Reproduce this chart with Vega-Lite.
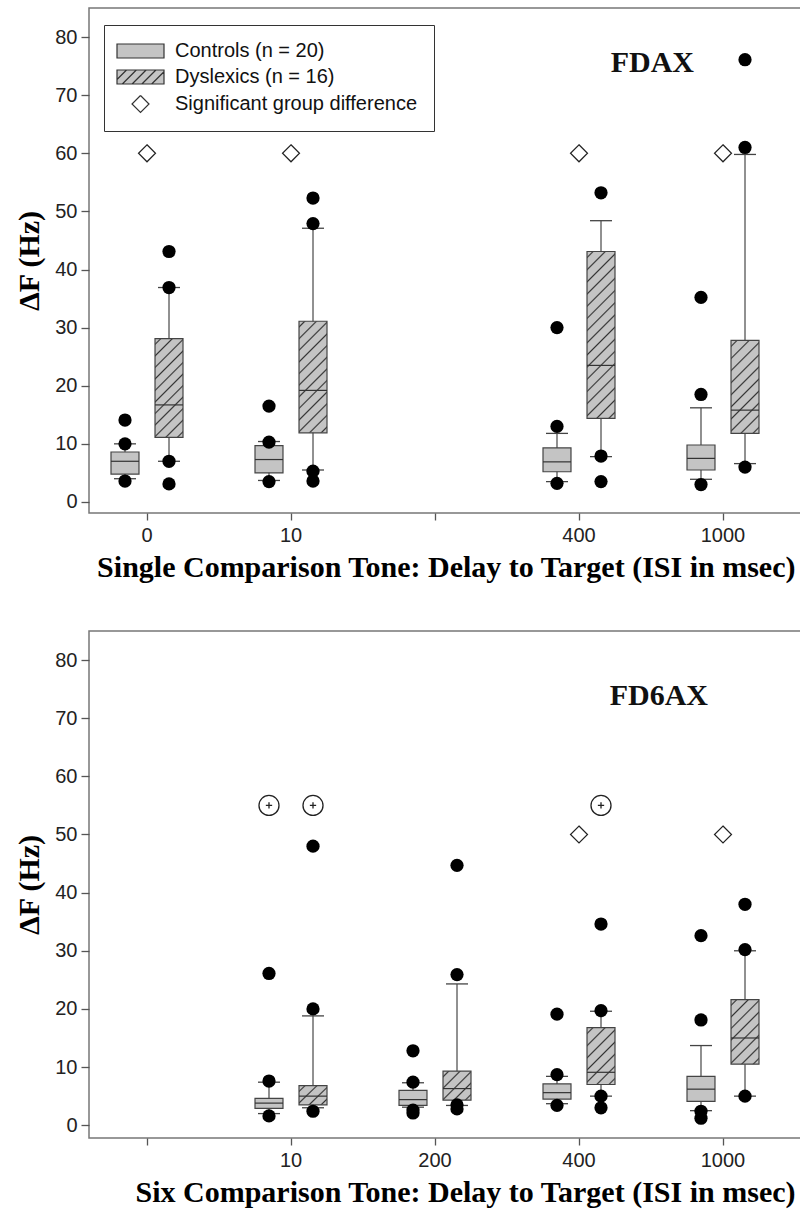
{
  "$schema": "https://vega.github.io/schema/vega-lite/v6.json",
  "autosize": {"type": "pad"},
  "padding": {"left": 14, "top": 7, "right": -2, "bottom": 5},
  "background": "white",
  "spacing": 118,
  "bounds": "flush",
  "datasets": {
    "boxes": [
      {"panel": "FDAX", "slot": "0", "group": "Controls", "lo": 4.0, "q1": 4.8, "med": 7.0, "q3": 8.6, "hi": 10.0},
      {"panel": "FDAX", "slot": "0", "group": "Dyslexics", "lo": 7.0, "q1": 11.1, "med": 16.7, "q3": 28.1, "hi": 36.9},
      {"panel": "FDAX", "slot": "10", "group": "Controls", "lo": 3.7, "q1": 5.0, "med": 7.3, "q3": 9.7, "hi": 10.4},
      {"panel": "FDAX", "slot": "10", "group": "Dyslexics", "lo": 5.5, "q1": 11.9, "med": 19.2, "q3": 31.1, "hi": 47.1},
      {"panel": "FDAX", "slot": "400", "group": "Controls", "lo": 3.5, "q1": 5.2, "med": 6.9, "q3": 9.3, "hi": 11.8},
      {"panel": "FDAX", "slot": "400", "group": "Dyslexics", "lo": 7.8, "q1": 14.4, "med": 23.5, "q3": 43.1, "hi": 48.4},
      {"panel": "FDAX", "slot": "1000", "group": "Controls", "lo": 3.9, "q1": 5.5, "med": 7.5, "q3": 9.8, "hi": 16.2},
      {"panel": "FDAX", "slot": "1000", "group": "Dyslexics", "lo": 6.6, "q1": 11.8, "med": 15.8, "q3": 27.8, "hi": 59.8},
      {"panel": "FD6AX", "slot": "10", "group": "Controls", "lo": 2.0, "q1": 2.9, "med": 3.8, "q3": 4.6, "hi": 7.4},
      {"panel": "FD6AX", "slot": "10", "group": "Dyslexics", "lo": 3.0, "q1": 3.5, "med": 5.0, "q3": 6.8, "hi": 18.8},
      {"panel": "FD6AX", "slot": "200", "group": "Controls", "lo": 3.1, "q1": 3.4, "med": 4.4, "q3": 6.0, "hi": 7.3},
      {"panel": "FD6AX", "slot": "200", "group": "Dyslexics", "lo": 3.4, "q1": 4.3, "med": 6.3, "q3": 9.3, "hi": 24.3},
      {"panel": "FD6AX", "slot": "400", "group": "Controls", "lo": 3.7, "q1": 4.5, "med": 5.6, "q3": 7.1, "hi": 8.4},
      {"panel": "FD6AX", "slot": "400", "group": "Dyslexics", "lo": 5.0, "q1": 7.0, "med": 9.1, "q3": 16.8, "hi": 19.6},
      {"panel": "FD6AX", "slot": "1000", "group": "Controls", "lo": 2.5, "q1": 4.1, "med": 6.2, "q3": 8.4, "hi": 13.7},
      {"panel": "FD6AX", "slot": "1000", "group": "Dyslexics", "lo": 5.0, "q1": 10.5, "med": 15.0, "q3": 21.6, "hi": 30.0}
    ],
    "outliers": [
      {"panel": "FDAX", "slot": "0", "group": "Controls", "value": 14.1},
      {"panel": "FDAX", "slot": "0", "group": "Controls", "value": 10.0},
      {"panel": "FDAX", "slot": "0", "group": "Controls", "value": 3.6},
      {"panel": "FDAX", "slot": "0", "group": "Dyslexics", "value": 43.1},
      {"panel": "FDAX", "slot": "0", "group": "Dyslexics", "value": 36.9},
      {"panel": "FDAX", "slot": "0", "group": "Dyslexics", "value": 7.0},
      {"panel": "FDAX", "slot": "0", "group": "Dyslexics", "value": 3.1},
      {"panel": "FDAX", "slot": "10", "group": "Controls", "value": 16.5},
      {"panel": "FDAX", "slot": "10", "group": "Controls", "value": 10.3},
      {"panel": "FDAX", "slot": "10", "group": "Controls", "value": 3.5},
      {"panel": "FDAX", "slot": "10", "group": "Dyslexics", "value": 52.3},
      {"panel": "FDAX", "slot": "10", "group": "Dyslexics", "value": 47.9},
      {"panel": "FDAX", "slot": "10", "group": "Dyslexics", "value": 5.3},
      {"panel": "FDAX", "slot": "10", "group": "Dyslexics", "value": 3.6},
      {"panel": "FDAX", "slot": "400", "group": "Controls", "value": 30.0},
      {"panel": "FDAX", "slot": "400", "group": "Controls", "value": 13.0},
      {"panel": "FDAX", "slot": "400", "group": "Controls", "value": 3.2},
      {"panel": "FDAX", "slot": "400", "group": "Dyslexics", "value": 53.2},
      {"panel": "FDAX", "slot": "400", "group": "Dyslexics", "value": 7.9},
      {"panel": "FDAX", "slot": "400", "group": "Dyslexics", "value": 3.5},
      {"panel": "FDAX", "slot": "1000", "group": "Controls", "value": 35.2},
      {"panel": "FDAX", "slot": "1000", "group": "Controls", "value": 18.5},
      {"panel": "FDAX", "slot": "1000", "group": "Controls", "value": 3.0},
      {"panel": "FDAX", "slot": "1000", "group": "Dyslexics", "value": 76.1},
      {"panel": "FDAX", "slot": "1000", "group": "Dyslexics", "value": 61.0},
      {"panel": "FDAX", "slot": "1000", "group": "Dyslexics", "value": 6.0},
      {"panel": "FD6AX", "slot": "10", "group": "Controls", "value": 26.1},
      {"panel": "FD6AX", "slot": "10", "group": "Controls", "value": 7.6},
      {"panel": "FD6AX", "slot": "10", "group": "Controls", "value": 1.6},
      {"panel": "FD6AX", "slot": "10", "group": "Dyslexics", "value": 48.0},
      {"panel": "FD6AX", "slot": "10", "group": "Dyslexics", "value": 20.0},
      {"panel": "FD6AX", "slot": "10", "group": "Dyslexics", "value": 2.4},
      {"panel": "FD6AX", "slot": "200", "group": "Controls", "value": 12.8},
      {"panel": "FD6AX", "slot": "200", "group": "Controls", "value": 7.4},
      {"panel": "FD6AX", "slot": "200", "group": "Controls", "value": 2.6},
      {"panel": "FD6AX", "slot": "200", "group": "Controls", "value": 2.1},
      {"panel": "FD6AX", "slot": "200", "group": "Dyslexics", "value": 44.7},
      {"panel": "FD6AX", "slot": "200", "group": "Dyslexics", "value": 25.9},
      {"panel": "FD6AX", "slot": "200", "group": "Dyslexics", "value": 3.5},
      {"panel": "FD6AX", "slot": "200", "group": "Dyslexics", "value": 2.8},
      {"panel": "FD6AX", "slot": "400", "group": "Controls", "value": 19.1},
      {"panel": "FD6AX", "slot": "400", "group": "Controls", "value": 8.7},
      {"panel": "FD6AX", "slot": "400", "group": "Controls", "value": 3.4},
      {"panel": "FD6AX", "slot": "400", "group": "Dyslexics", "value": 34.6},
      {"panel": "FD6AX", "slot": "400", "group": "Dyslexics", "value": 19.7},
      {"panel": "FD6AX", "slot": "400", "group": "Dyslexics", "value": 5.0},
      {"panel": "FD6AX", "slot": "400", "group": "Dyslexics", "value": 3.0},
      {"panel": "FD6AX", "slot": "1000", "group": "Controls", "value": 32.6},
      {"panel": "FD6AX", "slot": "1000", "group": "Controls", "value": 18.1},
      {"panel": "FD6AX", "slot": "1000", "group": "Controls", "value": 2.4},
      {"panel": "FD6AX", "slot": "1000", "group": "Controls", "value": 1.2},
      {"panel": "FD6AX", "slot": "1000", "group": "Dyslexics", "value": 38.0},
      {"panel": "FD6AX", "slot": "1000", "group": "Dyslexics", "value": 30.2},
      {"panel": "FD6AX", "slot": "1000", "group": "Dyslexics", "value": 5.0}
    ],
    "marks": [
      {"panel": "FDAX", "slot": "0", "value": 60, "kind": "Significant group difference"},
      {"panel": "FDAX", "slot": "10", "value": 60, "kind": "Significant group difference"},
      {"panel": "FDAX", "slot": "400", "value": 60, "kind": "Significant group difference"},
      {"panel": "FDAX", "slot": "1000", "value": 60, "kind": "Significant group difference"},
      {"panel": "FD6AX", "slot": "400", "value": 50, "kind": "Significant group difference"},
      {"panel": "FD6AX", "slot": "1000", "value": 50, "kind": "Significant group difference"}
    ],
    "plus": [
      {"panel": "FD6AX", "slot": "10", "group": "Controls", "value": 55},
      {"panel": "FD6AX", "slot": "10", "group": "Dyslexics", "value": 55},
      {"panel": "FD6AX", "slot": "400", "group": "Dyslexics", "value": 55}
    ]
  },
  "vconcat": [
    {
      "width": 712,
      "height": 505,
      "layer": [
        {
          "data": {"name": "boxes"},
          "transform": [{"filter": "datum.panel == 'FDAX'"}],
          "mark": {"type": "rule", "color": "#555", "strokeWidth": 1.3},
          "encoding": {
            "x": {"field": "slot", "type": "nominal", "title": "Single Comparison Tone: Delay to Target (ISI in msec)", "scale": {"domain": ["0", "10", "mid", "400", "1000"], "range": [-14, 706], "paddingInner": 0, "paddingOuter": 0},
                  "axis": {"labelExpr": "datum.value == 'mid' ? '' : datum.label", "labelAngle": 0, "titleAnchor": "end", "tickSize": 7, "labelPadding": 5, "titlePadding": 7}},
            "xOffset": {"field": "group", "scale": {"domain": ["Controls", "Dyslexics"], "paddingInner": 0.364, "paddingOuter": 0.818}},
            "y": {"field": "lo", "type": "quantitative", "title": "ΔF (Hz)", "scale": {"domain": [-1.9, 85], "nice": false, "zero": false},
                  "axis": {"values": [0, 10, 20, 30, 40, 50, 60, 70, 80], "tickSize": 8, "labelPadding": 4, "titlePadding": 10}},
            "y2": {"field": "hi"}
          }
        },
        {
          "data": {"name": "boxes"},
          "transform": [{"filter": "datum.panel == 'FDAX'"}],
          "mark": {"type": "rect", "stroke": "#444", "strokeWidth": 1.2, "opacity": 1},
          "encoding": {
            "x": {"field": "slot", "type": "nominal", "title": "Single Comparison Tone: Delay to Target (ISI in msec)", "scale": {"domain": ["0", "10", "mid", "400", "1000"], "range": [-14, 706], "paddingInner": 0, "paddingOuter": 0}},
            "xOffset": {"field": "group", "scale": {"domain": ["Controls", "Dyslexics"], "paddingInner": 0.364, "paddingOuter": 0.818}},
            "y": {"field": "q1", "type": "quantitative", "title": "ΔF (Hz)", "scale": {"domain": [-1.9, 85], "nice": false, "zero": false}},
            "y2": {"field": "q3"},
            "fill": {
              "condition": [
                {"test": "datum.group == 'Dyslexics' && datum.slot == '0'", "value": {"gradient": "linear", "x1": 0, "y1": 0, "x2": 0.3367, "y2": 1.188, "stops": [
                  {"offset": 0.0329, "color": "#c4c4c4"}, {"offset": 0.0455, "color": "#333"}, {"offset": 0.0581, "color": "#c4c4c4"},
                  {"offset": 0.1238, "color": "#c4c4c4"}, {"offset": 0.1364, "color": "#333"}, {"offset": 0.149, "color": "#c4c4c4"},
                  {"offset": 0.2147, "color": "#c4c4c4"}, {"offset": 0.2273, "color": "#333"}, {"offset": 0.2399, "color": "#c4c4c4"},
                  {"offset": 0.3056, "color": "#c4c4c4"}, {"offset": 0.3182, "color": "#333"}, {"offset": 0.3308, "color": "#c4c4c4"},
                  {"offset": 0.3965, "color": "#c4c4c4"}, {"offset": 0.4091, "color": "#333"}, {"offset": 0.4217, "color": "#c4c4c4"},
                  {"offset": 0.4874, "color": "#c4c4c4"}, {"offset": 0.5, "color": "#333"}, {"offset": 0.5126, "color": "#c4c4c4"},
                  {"offset": 0.5783, "color": "#c4c4c4"}, {"offset": 0.5909, "color": "#333"}, {"offset": 0.6035, "color": "#c4c4c4"},
                  {"offset": 0.6692, "color": "#c4c4c4"}, {"offset": 0.6818, "color": "#333"}, {"offset": 0.6944, "color": "#c4c4c4"},
                  {"offset": 0.7601, "color": "#c4c4c4"}, {"offset": 0.7727, "color": "#333"}, {"offset": 0.7853, "color": "#c4c4c4"},
                  {"offset": 0.851, "color": "#c4c4c4"}, {"offset": 0.8636, "color": "#333"}, {"offset": 0.8762, "color": "#c4c4c4"},
                  {"offset": 0.9419, "color": "#c4c4c4"}, {"offset": 0.9545, "color": "#333"}, {"offset": 0.9671, "color": "#c4c4c4"}]}},
                {"test": "datum.group == 'Dyslexics' && datum.slot == '10'", "value": {"gradient": "linear", "x1": 0, "y1": 0, "x2": 0.2952, "y2": 1.1767, "stops": [
                  {"offset": 0.0302, "color": "#c4c4c4"}, {"offset": 0.0417, "color": "#333"}, {"offset": 0.0532, "color": "#c4c4c4"},
                  {"offset": 0.1135, "color": "#c4c4c4"}, {"offset": 0.125, "color": "#333"}, {"offset": 0.1365, "color": "#c4c4c4"},
                  {"offset": 0.1968, "color": "#c4c4c4"}, {"offset": 0.2083, "color": "#333"}, {"offset": 0.2198, "color": "#c4c4c4"},
                  {"offset": 0.2802, "color": "#c4c4c4"}, {"offset": 0.2917, "color": "#333"}, {"offset": 0.3032, "color": "#c4c4c4"},
                  {"offset": 0.3635, "color": "#c4c4c4"}, {"offset": 0.375, "color": "#333"}, {"offset": 0.3865, "color": "#c4c4c4"},
                  {"offset": 0.4468, "color": "#c4c4c4"}, {"offset": 0.4583, "color": "#333"}, {"offset": 0.4698, "color": "#c4c4c4"},
                  {"offset": 0.5302, "color": "#c4c4c4"}, {"offset": 0.5417, "color": "#333"}, {"offset": 0.5532, "color": "#c4c4c4"},
                  {"offset": 0.6135, "color": "#c4c4c4"}, {"offset": 0.625, "color": "#333"}, {"offset": 0.6365, "color": "#c4c4c4"},
                  {"offset": 0.6968, "color": "#c4c4c4"}, {"offset": 0.7083, "color": "#333"}, {"offset": 0.7198, "color": "#c4c4c4"},
                  {"offset": 0.7802, "color": "#c4c4c4"}, {"offset": 0.7917, "color": "#333"}, {"offset": 0.8032, "color": "#c4c4c4"},
                  {"offset": 0.8635, "color": "#c4c4c4"}, {"offset": 0.875, "color": "#333"}, {"offset": 0.8865, "color": "#c4c4c4"},
                  {"offset": 0.9468, "color": "#c4c4c4"}, {"offset": 0.9583, "color": "#333"}, {"offset": 0.9698, "color": "#c4c4c4"}]}},
                {"test": "datum.group == 'Dyslexics' && datum.slot == '400'", "value": {"gradient": "linear", "x1": 0, "y1": 0, "x2": 0.1907, "y2": 1.136, "stops": [
                  {"offset": 0.0231, "color": "#c4c4c4"}, {"offset": 0.0313, "color": "#333"}, {"offset": 0.0395, "color": "#c4c4c4"},
                  {"offset": 0.0856, "color": "#c4c4c4"}, {"offset": 0.0938, "color": "#333"}, {"offset": 0.102, "color": "#c4c4c4"},
                  {"offset": 0.1481, "color": "#c4c4c4"}, {"offset": 0.1563, "color": "#333"}, {"offset": 0.1645, "color": "#c4c4c4"},
                  {"offset": 0.2106, "color": "#c4c4c4"}, {"offset": 0.2188, "color": "#333"}, {"offset": 0.227, "color": "#c4c4c4"},
                  {"offset": 0.2731, "color": "#c4c4c4"}, {"offset": 0.2813, "color": "#333"}, {"offset": 0.2895, "color": "#c4c4c4"},
                  {"offset": 0.3356, "color": "#c4c4c4"}, {"offset": 0.3438, "color": "#333"}, {"offset": 0.352, "color": "#c4c4c4"},
                  {"offset": 0.3981, "color": "#c4c4c4"}, {"offset": 0.4063, "color": "#333"}, {"offset": 0.4145, "color": "#c4c4c4"},
                  {"offset": 0.4606, "color": "#c4c4c4"}, {"offset": 0.4688, "color": "#333"}, {"offset": 0.477, "color": "#c4c4c4"},
                  {"offset": 0.5231, "color": "#c4c4c4"}, {"offset": 0.5313, "color": "#333"}, {"offset": 0.5395, "color": "#c4c4c4"},
                  {"offset": 0.5856, "color": "#c4c4c4"}, {"offset": 0.5938, "color": "#333"}, {"offset": 0.602, "color": "#c4c4c4"},
                  {"offset": 0.6481, "color": "#c4c4c4"}, {"offset": 0.6563, "color": "#333"}, {"offset": 0.6645, "color": "#c4c4c4"},
                  {"offset": 0.7106, "color": "#c4c4c4"}, {"offset": 0.7188, "color": "#333"}, {"offset": 0.727, "color": "#c4c4c4"},
                  {"offset": 0.7731, "color": "#c4c4c4"}, {"offset": 0.7813, "color": "#333"}, {"offset": 0.7895, "color": "#c4c4c4"},
                  {"offset": 0.8356, "color": "#c4c4c4"}, {"offset": 0.8438, "color": "#333"}, {"offset": 0.852, "color": "#c4c4c4"},
                  {"offset": 0.8981, "color": "#c4c4c4"}, {"offset": 0.9063, "color": "#333"}, {"offset": 0.9145, "color": "#c4c4c4"},
                  {"offset": 0.9606, "color": "#c4c4c4"}, {"offset": 0.9688, "color": "#333"}, {"offset": 0.977, "color": "#c4c4c4"}]}},
                {"test": "datum.group == 'Dyslexics' && datum.slot == '1000'", "value": {"gradient": "linear", "x1": 0, "y1": 0, "x2": 0.3592, "y2": 1.193, "stops": [
                  {"offset": 0.0368, "color": "#c4c4c4"}, {"offset": 0.05, "color": "#333"}, {"offset": 0.0632, "color": "#c4c4c4"},
                  {"offset": 0.1368, "color": "#c4c4c4"}, {"offset": 0.15, "color": "#333"}, {"offset": 0.1632, "color": "#c4c4c4"},
                  {"offset": 0.2368, "color": "#c4c4c4"}, {"offset": 0.25, "color": "#333"}, {"offset": 0.2632, "color": "#c4c4c4"},
                  {"offset": 0.3368, "color": "#c4c4c4"}, {"offset": 0.35, "color": "#333"}, {"offset": 0.3632, "color": "#c4c4c4"},
                  {"offset": 0.4368, "color": "#c4c4c4"}, {"offset": 0.45, "color": "#333"}, {"offset": 0.4632, "color": "#c4c4c4"},
                  {"offset": 0.5368, "color": "#c4c4c4"}, {"offset": 0.55, "color": "#333"}, {"offset": 0.5632, "color": "#c4c4c4"},
                  {"offset": 0.6368, "color": "#c4c4c4"}, {"offset": 0.65, "color": "#333"}, {"offset": 0.6632, "color": "#c4c4c4"},
                  {"offset": 0.7368, "color": "#c4c4c4"}, {"offset": 0.75, "color": "#333"}, {"offset": 0.7632, "color": "#c4c4c4"},
                  {"offset": 0.8368, "color": "#c4c4c4"}, {"offset": 0.85, "color": "#333"}, {"offset": 0.8632, "color": "#c4c4c4"},
                  {"offset": 0.9368, "color": "#c4c4c4"}, {"offset": 0.95, "color": "#333"}, {"offset": 0.9632, "color": "#c4c4c4"}]}}
              ],
              "value": "#c4c4c4"
            }
          }
        },
        {
          "data": {"name": "boxes"},
          "transform": [{"filter": "datum.panel == 'FDAX'"}],
          "mark": {"type": "tick", "color": "#333", "size": 28, "thickness": 1.2, "opacity": 1},
          "encoding": {
            "x": {"field": "slot", "type": "nominal", "title": "Single Comparison Tone: Delay to Target (ISI in msec)", "scale": {"domain": ["0", "10", "mid", "400", "1000"], "range": [-14, 706], "paddingInner": 0, "paddingOuter": 0}},
            "xOffset": {"field": "group", "scale": {"domain": ["Controls", "Dyslexics"], "paddingInner": 0.364, "paddingOuter": 0.818}},
            "y": {"field": "med", "type": "quantitative", "title": "ΔF (Hz)", "scale": {"domain": [-1.9, 85], "nice": false, "zero": false}}
          }
        },
        {
          "data": {"name": "boxes"},
          "transform": [{"filter": "datum.panel == 'FDAX'"}, {"fold": ["lo", "hi"], "as": ["end", "cap"]}],
          "mark": {"type": "tick", "color": "#444", "size": 22, "thickness": 1.3, "opacity": 1},
          "encoding": {
            "x": {"field": "slot", "type": "nominal", "title": "Single Comparison Tone: Delay to Target (ISI in msec)", "scale": {"domain": ["0", "10", "mid", "400", "1000"], "range": [-14, 706], "paddingInner": 0, "paddingOuter": 0}},
            "xOffset": {"field": "group", "scale": {"domain": ["Controls", "Dyslexics"], "paddingInner": 0.364, "paddingOuter": 0.818}},
            "y": {"field": "cap", "type": "quantitative", "title": "ΔF (Hz)", "scale": {"domain": [-1.9, 85], "nice": false, "zero": false}}
          }
        },
        {
          "data": {"name": "outliers"},
          "transform": [{"filter": "datum.panel == 'FDAX'"}],
          "mark": {"type": "point", "shape": "circle", "filled": true, "color": "#000", "size": 175, "opacity": 1},
          "encoding": {
            "x": {"field": "slot", "type": "nominal", "title": "Single Comparison Tone: Delay to Target (ISI in msec)", "scale": {"domain": ["0", "10", "mid", "400", "1000"], "range": [-14, 706], "paddingInner": 0, "paddingOuter": 0}},
            "xOffset": {"field": "group", "scale": {"domain": ["Controls", "Dyslexics"], "paddingInner": 0.364, "paddingOuter": 0.818}},
            "y": {"field": "value", "type": "quantitative", "title": "ΔF (Hz)", "scale": {"domain": [-1.9, 85], "nice": false, "zero": false}}
          }
        },
        {
          "data": {"name": "marks"},
          "transform": [{"filter": "datum.panel == 'FDAX'"}],
          "mark": {"type": "point", "shape": "M0,-1.214L1.214,0L0,1.214L-1.214,0Z", "filled": true, "fill": "#ffffff", "size": 196, "stroke": "#222", "strokeWidth": 1.2, "opacity": 1},
          "encoding": {
            "x": {"field": "slot", "type": "nominal", "title": "Single Comparison Tone: Delay to Target (ISI in msec)", "scale": {"domain": ["0", "10", "mid", "400", "1000"], "range": [-14, 706], "paddingInner": 0, "paddingOuter": 0}},
            "y": {"field": "value", "type": "quantitative", "title": "ΔF (Hz)", "scale": {"domain": [-1.9, 85], "nice": false, "zero": false}}
          }
        },
        {
          "data": {"name": "marks"},
          "transform": [{"filter": "false"}],
          "mark": {"type": "point", "filled": true, "fill": "#c4c4c4", "stroke": "#333", "size": 196, "strokeWidth": 1.2, "opacity": 1},
          "encoding": {
            "x": {"field": "slot", "type": "nominal", "title": "Single Comparison Tone: Delay to Target (ISI in msec)", "scale": {"domain": ["0", "10", "mid", "400", "1000"], "range": [-14, 706], "paddingInner": 0, "paddingOuter": 0}},
            "y": {"field": "value", "type": "quantitative", "title": "ΔF (Hz)", "scale": {"domain": [-1.9, 85], "nice": false, "zero": false}},
            "shape": {
              "field": "kind", "type": "nominal",
              "scale": {
                "domain": ["Controls (n = 20)", "Dyslexics (n = 16)", "Significant group difference"],
                "range": [
                  "M-1.857,-1H4.857V1H-1.857Z",
                  "M-1.857,-1H4.857V1H-1.857Z M-1.857,0.36L-0.5,-1 M-1.1,1L0.9,-1 M0.3,1L2.3,-1 M1.7,1L3.7,-1 M3.1,1L4.857,-0.757",
                  "M1.5,-1.214L2.714,0L1.5,1.214L0.286,0L1.5,-1.214L0.286,0L1.5,1.214L2.714,0Z"
                ]
              },
              "legend": {
                "title": null, "orient": "none", "legendX": 15, "legendY": 17,
                "padding": 16, "strokeColor": "#333", "fillColor": "white",
                "labelFont": "Liberation Sans", "labelFontSize": 20, "labelColor": "#111",
                "labelOffset": 35, "rowPadding": 6, "symbolSize": 196, "labelLimit": 400,
                "symbolStrokeWidth": 1.2, "symbolOpacity": 1
              }
            }
          }
        },
        {
          "data": {"values": [{"label": "FDAX"}]},
          "mark": {"type": "text", "font": "Liberation Serif", "fontWeight": "bold", "fontSize": 30, "align": "right", "baseline": "alphabetic", "dx": -7, "color": "#111"},
          "encoding": {
            "x": {"datum": "1000", "type": "nominal", "title": "Single Comparison Tone: Delay to Target (ISI in msec)", "scale": {"domain": ["0", "10", "mid", "400", "1000"], "range": [-14, 706], "paddingInner": 0, "paddingOuter": 0}},
            "xOffset": {"datum": "Controls", "scale": {"domain": ["Controls", "Dyslexics"], "paddingInner": 0.364, "paddingOuter": 0.818}},
            "y": {"datum": 74, "type": "quantitative", "title": "ΔF (Hz)", "scale": {"domain": [-1.9, 85], "nice": false, "zero": false}},
            "text": {"field": "label"}
          }
        }
      ]
    },
    {
      "width": 712,
      "height": 507,
      "layer": [
        {
          "data": {"name": "boxes"},
          "transform": [{"filter": "datum.panel == 'FD6AX'"}],
          "mark": {"type": "rule", "color": "#555", "strokeWidth": 1.3},
          "encoding": {
            "x": {"field": "slot", "type": "nominal", "title": "Six Comparison Tone: Delay to Target (ISI in msec)", "scale": {"domain": ["pre", "10", "200", "400", "1000"], "range": [-14, 706], "paddingInner": 0, "paddingOuter": 0},
                  "axis": {"labelExpr": "datum.value == 'pre' ? '' : datum.label", "labelAngle": 0, "titleAnchor": "end", "tickSize": 7, "labelPadding": 5, "titlePadding": 7}},
            "xOffset": {"field": "group", "scale": {"domain": ["Controls", "Dyslexics"], "paddingInner": 0.364, "paddingOuter": 0.818}},
            "y": {"field": "lo", "type": "quantitative", "title": "ΔF (Hz)", "scale": {"domain": [-2.2, 85], "nice": false, "zero": false},
                  "axis": {"values": [0, 10, 20, 30, 40, 50, 60, 70, 80], "tickSize": 8, "labelPadding": 4, "titlePadding": 10}},
            "y2": {"field": "hi"}
          }
        },
        {
          "data": {"name": "boxes"},
          "transform": [{"filter": "datum.panel == 'FD6AX'"}],
          "mark": {"type": "rect", "stroke": "#444", "strokeWidth": 1.2, "opacity": 1},
          "encoding": {
            "x": {"field": "slot", "type": "nominal", "title": "Six Comparison Tone: Delay to Target (ISI in msec)", "scale": {"domain": ["pre", "10", "200", "400", "1000"], "range": [-14, 706], "paddingInner": 0, "paddingOuter": 0}},
            "xOffset": {"field": "group", "scale": {"domain": ["Controls", "Dyslexics"], "paddingInner": 0.364, "paddingOuter": 0.818}},
            "y": {"field": "q1", "type": "quantitative", "title": "ΔF (Hz)", "scale": {"domain": [-2.2, 85], "nice": false, "zero": false}},
            "y2": {"field": "q3"},
            "fill": {
              "condition": [
                {"test": "datum.group == 'Dyslexics' && datum.slot == '10'", "value": {"gradient": "linear", "x1": 0, "y1": 0, "x2": 1.138, "y2": 0.8046, "stops": [
                  {"offset": 0.0915, "color": "#c4c4c4"}, {"offset": 0.125, "color": "#333"}, {"offset": 0.1585, "color": "#c4c4c4"},
                  {"offset": 0.3415, "color": "#c4c4c4"}, {"offset": 0.375, "color": "#333"}, {"offset": 0.4085, "color": "#c4c4c4"},
                  {"offset": 0.5915, "color": "#c4c4c4"}, {"offset": 0.625, "color": "#333"}, {"offset": 0.6585, "color": "#c4c4c4"},
                  {"offset": 0.8415, "color": "#c4c4c4"}, {"offset": 0.875, "color": "#333"}, {"offset": 0.9085, "color": "#c4c4c4"}]}},
                {"test": "datum.group == 'Dyslexics' && datum.slot == '200'", "value": {"gradient": "linear", "x1": 0, "y1": 0, "x2": 0.98, "y2": 1.018, "stops": [
                  {"offset": 0.072, "color": "#c4c4c4"}, {"offset": 0.1, "color": "#333"}, {"offset": 0.128, "color": "#c4c4c4"},
                  {"offset": 0.272, "color": "#c4c4c4"}, {"offset": 0.3, "color": "#333"}, {"offset": 0.328, "color": "#c4c4c4"},
                  {"offset": 0.472, "color": "#c4c4c4"}, {"offset": 0.5, "color": "#333"}, {"offset": 0.528, "color": "#c4c4c4"},
                  {"offset": 0.672, "color": "#c4c4c4"}, {"offset": 0.7, "color": "#333"}, {"offset": 0.728, "color": "#c4c4c4"},
                  {"offset": 0.872, "color": "#c4c4c4"}, {"offset": 0.9, "color": "#333"}, {"offset": 0.928, "color": "#c4c4c4"}]}},
                {"test": "datum.group == 'Dyslexics' && datum.slot == '400'", "value": {"gradient": "linear", "x1": 0, "y1": 0, "x2": 0.59, "y2": 1.201, "stops": [
                  {"offset": 0.0526, "color": "#c4c4c4"}, {"offset": 0.0714, "color": "#333"}, {"offset": 0.0902, "color": "#c4c4c4"},
                  {"offset": 0.1955, "color": "#c4c4c4"}, {"offset": 0.2143, "color": "#333"}, {"offset": 0.2331, "color": "#c4c4c4"},
                  {"offset": 0.3383, "color": "#c4c4c4"}, {"offset": 0.3571, "color": "#333"}, {"offset": 0.3759, "color": "#c4c4c4"},
                  {"offset": 0.4812, "color": "#c4c4c4"}, {"offset": 0.5, "color": "#333"}, {"offset": 0.5188, "color": "#c4c4c4"},
                  {"offset": 0.6241, "color": "#c4c4c4"}, {"offset": 0.6429, "color": "#333"}, {"offset": 0.6617, "color": "#c4c4c4"},
                  {"offset": 0.7669, "color": "#c4c4c4"}, {"offset": 0.7857, "color": "#333"}, {"offset": 0.8045, "color": "#c4c4c4"},
                  {"offset": 0.9098, "color": "#c4c4c4"}, {"offset": 0.9286, "color": "#333"}, {"offset": 0.9474, "color": "#c4c4c4"}]}},
                {"test": "datum.group == 'Dyslexics' && datum.slot == '1000'", "value": {"gradient": "linear", "x1": 0, "y1": 0, "x2": 0.5238, "y2": 1.2067, "stops": [
                  {"offset": 0.0452, "color": "#c4c4c4"}, {"offset": 0.0625, "color": "#333"}, {"offset": 0.0798, "color": "#c4c4c4"},
                  {"offset": 0.1702, "color": "#c4c4c4"}, {"offset": 0.1875, "color": "#333"}, {"offset": 0.2048, "color": "#c4c4c4"},
                  {"offset": 0.2952, "color": "#c4c4c4"}, {"offset": 0.3125, "color": "#333"}, {"offset": 0.3298, "color": "#c4c4c4"},
                  {"offset": 0.4202, "color": "#c4c4c4"}, {"offset": 0.4375, "color": "#333"}, {"offset": 0.4548, "color": "#c4c4c4"},
                  {"offset": 0.5452, "color": "#c4c4c4"}, {"offset": 0.5625, "color": "#333"}, {"offset": 0.5798, "color": "#c4c4c4"},
                  {"offset": 0.6702, "color": "#c4c4c4"}, {"offset": 0.6875, "color": "#333"}, {"offset": 0.7048, "color": "#c4c4c4"},
                  {"offset": 0.7952, "color": "#c4c4c4"}, {"offset": 0.8125, "color": "#333"}, {"offset": 0.8298, "color": "#c4c4c4"},
                  {"offset": 0.9202, "color": "#c4c4c4"}, {"offset": 0.9375, "color": "#333"}, {"offset": 0.9548, "color": "#c4c4c4"}]}}
              ],
              "value": "#c4c4c4"
            }
          }
        },
        {
          "data": {"name": "boxes"},
          "transform": [{"filter": "datum.panel == 'FD6AX'"}],
          "mark": {"type": "tick", "color": "#333", "size": 28, "thickness": 1.2, "opacity": 1},
          "encoding": {
            "x": {"field": "slot", "type": "nominal", "title": "Six Comparison Tone: Delay to Target (ISI in msec)", "scale": {"domain": ["pre", "10", "200", "400", "1000"], "range": [-14, 706], "paddingInner": 0, "paddingOuter": 0}},
            "xOffset": {"field": "group", "scale": {"domain": ["Controls", "Dyslexics"], "paddingInner": 0.364, "paddingOuter": 0.818}},
            "y": {"field": "med", "type": "quantitative", "title": "ΔF (Hz)", "scale": {"domain": [-2.2, 85], "nice": false, "zero": false}}
          }
        },
        {
          "data": {"name": "boxes"},
          "transform": [{"filter": "datum.panel == 'FD6AX'"}, {"fold": ["lo", "hi"], "as": ["end", "cap"]}],
          "mark": {"type": "tick", "color": "#444", "size": 22, "thickness": 1.3, "opacity": 1},
          "encoding": {
            "x": {"field": "slot", "type": "nominal", "title": "Six Comparison Tone: Delay to Target (ISI in msec)", "scale": {"domain": ["pre", "10", "200", "400", "1000"], "range": [-14, 706], "paddingInner": 0, "paddingOuter": 0}},
            "xOffset": {"field": "group", "scale": {"domain": ["Controls", "Dyslexics"], "paddingInner": 0.364, "paddingOuter": 0.818}},
            "y": {"field": "cap", "type": "quantitative", "title": "ΔF (Hz)", "scale": {"domain": [-2.2, 85], "nice": false, "zero": false}}
          }
        },
        {
          "data": {"name": "outliers"},
          "transform": [{"filter": "datum.panel == 'FD6AX'"}],
          "mark": {"type": "point", "shape": "circle", "filled": true, "color": "#000", "size": 175, "opacity": 1},
          "encoding": {
            "x": {"field": "slot", "type": "nominal", "title": "Six Comparison Tone: Delay to Target (ISI in msec)", "scale": {"domain": ["pre", "10", "200", "400", "1000"], "range": [-14, 706], "paddingInner": 0, "paddingOuter": 0}},
            "xOffset": {"field": "group", "scale": {"domain": ["Controls", "Dyslexics"], "paddingInner": 0.364, "paddingOuter": 0.818}},
            "y": {"field": "value", "type": "quantitative", "title": "ΔF (Hz)", "scale": {"domain": [-2.2, 85], "nice": false, "zero": false}}
          }
        },
        {
          "data": {"name": "marks"},
          "transform": [{"filter": "datum.panel == 'FD6AX'"}],
          "mark": {"type": "point", "shape": "M0,-1.214L1.214,0L0,1.214L-1.214,0Z", "filled": true, "fill": "#ffffff", "size": 196, "stroke": "#222", "strokeWidth": 1.2, "opacity": 1},
          "encoding": {
            "x": {"field": "slot", "type": "nominal", "title": "Six Comparison Tone: Delay to Target (ISI in msec)", "scale": {"domain": ["pre", "10", "200", "400", "1000"], "range": [-14, 706], "paddingInner": 0, "paddingOuter": 0}},
            "y": {"field": "value", "type": "quantitative", "title": "ΔF (Hz)", "scale": {"domain": [-2.2, 85], "nice": false, "zero": false}}
          }
        },
        {
          "data": {"name": "plus"},
          "mark": {"type": "point", "shape": "M1.43,0A1.43,1.43,0,1,1,-1.43,0A1.43,1.43,0,1,1,1.43,0Z M-0.45,0L0.45,0 M0,-0.45L0,0.45", "filled": true, "fill": "#ffffff", "size": 196, "stroke": "#222", "strokeWidth": 1.3, "opacity": 1},
          "encoding": {
            "x": {"field": "slot", "type": "nominal", "title": "Six Comparison Tone: Delay to Target (ISI in msec)", "scale": {"domain": ["pre", "10", "200", "400", "1000"], "range": [-14, 706], "paddingInner": 0, "paddingOuter": 0}},
            "xOffset": {"field": "group", "scale": {"domain": ["Controls", "Dyslexics"], "paddingInner": 0.364, "paddingOuter": 0.818}},
            "y": {"field": "value", "type": "quantitative", "title": "ΔF (Hz)", "scale": {"domain": [-2.2, 85], "nice": false, "zero": false}}
          }
        },
        {
          "data": {"values": [{"label": "FD6AX"}]},
          "mark": {"type": "text", "font": "Liberation Serif", "fontWeight": "bold", "fontSize": 30, "align": "right", "baseline": "alphabetic", "dx": 7, "color": "#111"},
          "encoding": {
            "x": {"datum": "1000", "type": "nominal", "title": "Six Comparison Tone: Delay to Target (ISI in msec)", "scale": {"domain": ["pre", "10", "200", "400", "1000"], "range": [-14, 706], "paddingInner": 0, "paddingOuter": 0}},
            "xOffset": {"datum": "Controls", "scale": {"domain": ["Controls", "Dyslexics"], "paddingInner": 0.364, "paddingOuter": 0.818}},
            "y": {"datum": 72.3, "type": "quantitative", "title": "ΔF (Hz)", "scale": {"domain": [-2.2, 85], "nice": false, "zero": false}},
            "text": {"field": "label"}
          }
        }
      ]
    }
  ],
  "resolve": {"scale": {"x": "independent", "y": "independent"}},
  "config": {
    "view": {"stroke": "#777", "strokeWidth": 1.5},
    "axis": {
      "domain": false,
      "grid": false,
      "tickColor": "#555",
      "tickWidth": 1.3,
      "labelFont": "Liberation Sans",
      "labelFontSize": 20,
      "labelColor": "#222",
      "titleFont": "Liberation Serif",
      "titleFontSize": 30,
      "titleFontWeight": "bold",
      "titleColor": "#000"
    }
  }
}
